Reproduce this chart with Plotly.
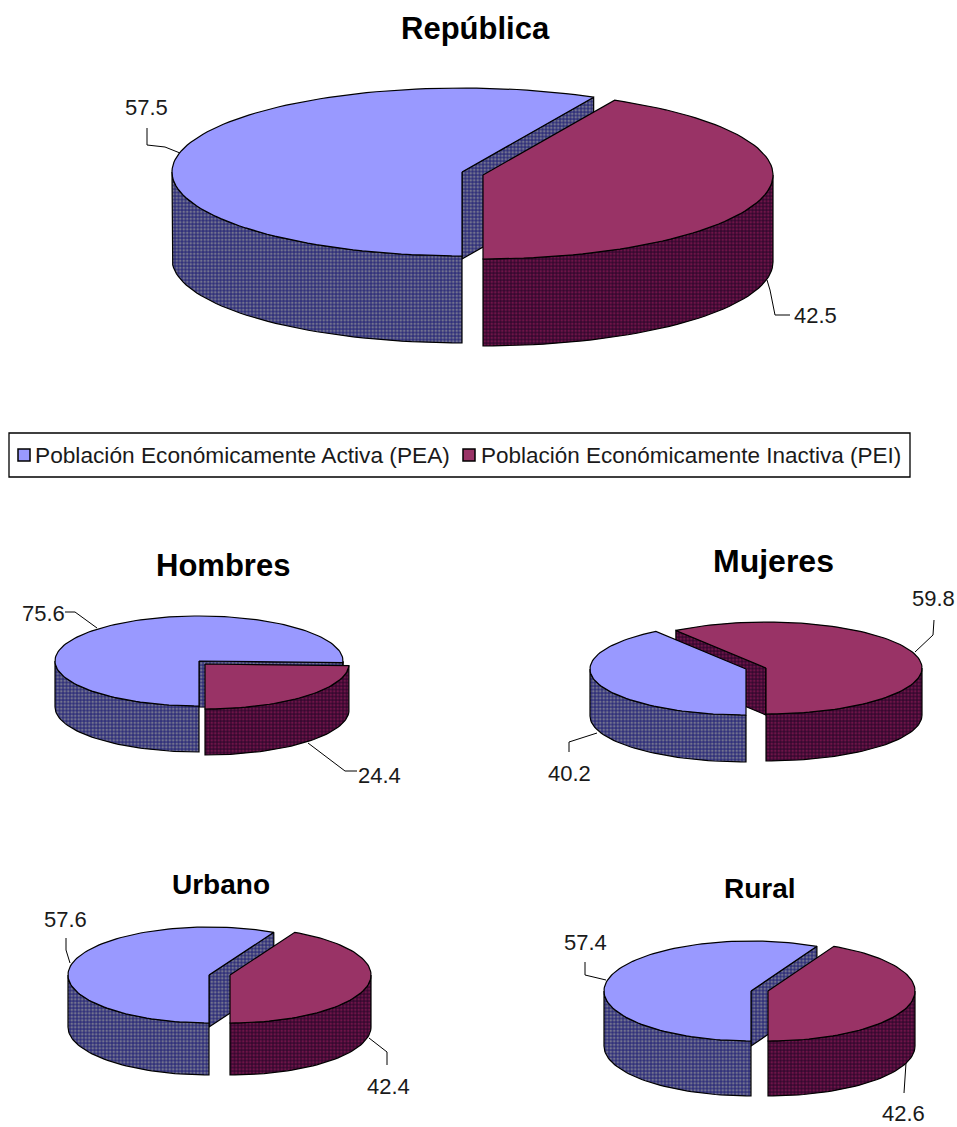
import math
import plotly.graph_objects as go

# ---- data ----
groups = ["República", "Hombres", "Mujeres", "Urbano", "Rural"]
pea_values = [57.5, 75.6, 40.2, 57.6, 57.4]
pei_values = [42.5, 24.4, 59.8, 42.4, 42.6]
series_names = ["Población Económicamente Activa (PEA)",
                "Población Económicamente Inactiva (PEI)"]

# ---- drawing configuration (pixel space of the page) ----
W, H = 957, 1127
TOP = {"PEA": "#9999FF", "PEI": "#993366"}
SIDE_BG = {"PEA": "#30307A", "PEI": "#35082F"}
SIDE_FG = {"PEA": "#72728F", "PEI": "#6E1448"}
pies = {
    # pea centre, pei centre, rx, ry, depth
    "República": dict(pea=(462, 172), pei=(483, 175), rx=290, ry=84, d=87),
    "Hombres": dict(pea=(199, 661), pei=(205, 664), rx=144, ry=45, d=46),
    "Mujeres": dict(pea=(746, 669), pei=(766, 668), rx=156, ry=46, d=47),
    "Urbano": dict(pea=(209, 975), pei=(230, 975), rx=141, ry=48, d=52),
    "Rural": dict(pea=(751, 991), pei=(768, 991), rx=147, ry=50, d=55),
}
titles = {"República": (475, 28, 31), "Hombres": (223, 565, 31), "Mujeres": (773, 561, 32),
          "Urbano": (221, 884, 28), "Rural": (760, 888, 28)}
labels = {  # group: ((x, y) of PEA value, (x, y) of PEI value)
    "República": ((146, 107), (815, 315)),
    "Hombres": ((43, 613), (379, 775)),
    "Mujeres": ((569, 773), (933, 598)),
    "Urbano": ((65, 919), (388, 1086)),
    "Rural": ((585, 942), (903, 1113)),
}
leaders = [
    [(147, 128), (147, 145), (165, 147), (180, 153)],
    [(790, 315), (775, 315), (770, 290), (767, 280)],
    [(65, 612), (75, 612), (97, 628)],
    [(357, 771), (345, 771), (308, 743)],
    [(934, 620), (933, 635), (915, 652)],
    [(569, 752), (569, 742), (597, 733)],
    [(66, 938), (66, 950), (70, 963)],
    [(387, 1065), (387, 1052), (369, 1038)],
    [(585, 962), (585, 975), (606, 980)],
    [(904, 1093), (906, 1063), (912, 1050)],
]


def rim(c, rx, ry, deg, dy=0):
    t = math.radians(deg)
    return c[0] + rx * math.sin(t), c[1] - ry * math.cos(t) + dy


def arc(c, rx, ry, a, b, dy=0, step=2.0):
    n = max(2, int(abs(b - a) / step) + 1)
    return [rim(c, rx, ry, a + (b - a) * i / (n - 1), dy) for i in range(n)]


def poly(pts, fill=None, side=None, name=None):
    xs = [p[0] for p in pts] + [pts[0][0]]
    ys = [p[1] for p in pts] + [pts[0][1]]
    kw = dict(x=xs, y=ys, mode="lines", fill="toself", line=dict(color="black", width=1.2),
              hoverinfo="skip", showlegend=False, name=name)
    if side:
        kw["fillcolor"] = SIDE_BG[side]
        kw["fillpattern"] = dict(shape=".", size=3.5, solidity=0.45, fgcolor=SIDE_FG[side],
                                 bgcolor=SIDE_BG[side], fillmode="replace")
    else:
        kw["fillcolor"] = fill
    return go.Scatter(**kw)


def slice_traces(key, c, rx, ry, d, a, b, wall_deg):
    """a -> b clockwise compass degrees; wall_deg = radial wall facing the viewer or None."""
    out = []
    if wall_deg is not None:
        p0 = rim(c, rx, ry, wall_deg)
        out.append(poly([c, p0, (p0[0], p0[1] + d), (c[0], c[1] + d)], side=key))
    # visible rim: compass angles between 90 and 270 (modulo 360)
    for lo, hi in ((90, 270), (450, 630)):
        s, e = max(a, lo), min(b, hi)
        if e > s:
            out.append(poly(arc(c, rx, ry, s, e) + arc(c, rx, ry, e, s, dy=d), side=key))
    out.append(poly([c] + arc(c, rx, ry, a, b), fill=TOP[key], name=key))
    return out


fig = go.Figure()
for g, pea, pei in zip(groups, pea_values, pei_values):
    p = pies[g]
    split = 180 + pea * 3.6            # PEA runs clockwise from six o'clock
    end_pea = split
    start_pei = split - 360
    sin_end = math.sin(math.radians(split))
    pea_wall = split if sin_end > 0.01 else None
    pei_wall = start_pei if sin_end < -0.01 else None
    pea_tr = slice_traces("PEA", p["pea"], p["rx"], p["ry"], p["d"], 180, end_pea, pea_wall)
    pei_tr = slice_traces("PEI", p["pei"], p["rx"], p["ry"], p["d"], start_pei, 180, pei_wall)
    for tr in (pea_tr + pei_tr if pea_wall is not None else pei_tr + pea_tr):
        fig.add_trace(tr)

annotations, shapes = [], []
TXT = "#1a1a1a"
for g, pea, pei in zip(groups, pea_values, pei_values):
    x, y, s = titles[g]
    annotations.append(dict(x=x, y=y, text=f"<b>{g}</b>", showarrow=False,
                            font=dict(family="Liberation Sans", size=s, color="black")))
    for v, (lx, ly) in zip((pea, pei), labels[g]):
        annotations.append(dict(x=lx, y=ly, text=f"{v:.1f}", showarrow=False,
                                font=dict(family="Liberation Sans", size=22, color=TXT)))
for pts in leaders:
    path = "M " + " L ".join(f"{a},{b}" for a, b in pts)
    shapes.append(dict(type="path", path=path, line=dict(color="black", width=1), layer="below"))

# legend box
shapes.append(dict(type="rect", x0=9, y0=433, x1=910, y1=477, line=dict(color="black", width=1.3)))
for key, x0 in (("PEA", 18), ("PEI", 463)):
    shapes.append(dict(type="rect", x0=x0, x1=x0 + 12, y0=449, y1=461, fillcolor=TOP[key],
                       line=dict(color="black", width=1.5)))
for name, x, s in zip(series_names, (33, 479), (22.7, 22.5)):
    annotations.append(dict(x=x, y=455, xanchor="left", text=name, showarrow=False,
                            font=dict(family="Liberation Sans", size=s, color=TXT)))

fig.update_layout(
    width=W, height=H, margin=dict(l=0, r=0, t=0, b=0), autosize=False,
    paper_bgcolor="white", plot_bgcolor="white", showlegend=False,
    xaxis=dict(range=[0, W], visible=False, fixedrange=True),
    yaxis=dict(range=[H, 0], visible=False, fixedrange=True),
    annotations=annotations, shapes=shapes,
)
# drop the page's default body margin so the figure fills the window exactly
fig.write_html("out.html", config={"displayModeBar": False},
               post_script="document.body.style.margin='0';"
                           "document.documentElement.style.overflow='hidden';")
